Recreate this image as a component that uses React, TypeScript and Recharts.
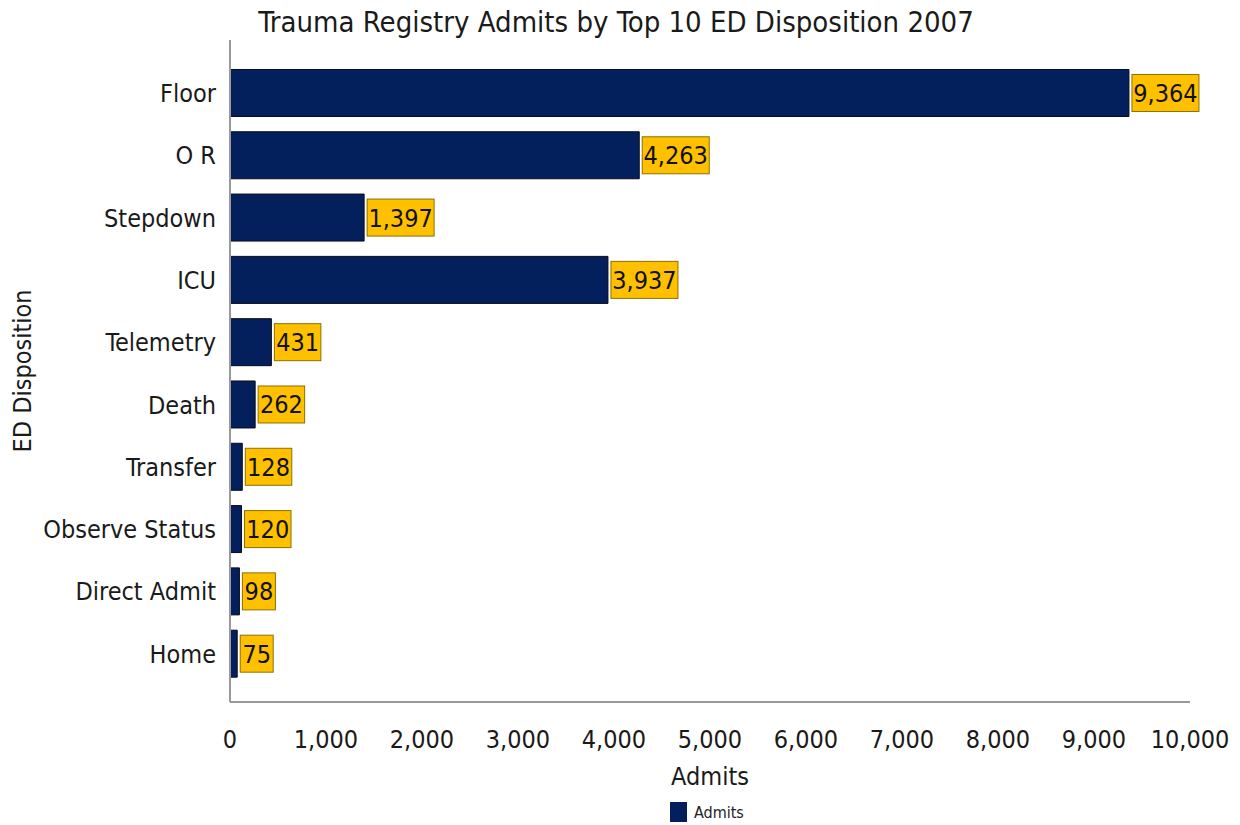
import React from "react";
import {
  BarChart, Bar, XAxis, YAxis, LabelList, Legend
} from "recharts";

const categories = [
  "Floor", "O R", "Stepdown", "ICU", "Telemetry",
  "Death", "Transfer", "Observe Status", "Direct Admit", "Home"
];
const admits = [9364, 4263, 1397, 3937, 431, 262, 128, 120, 98, 75];
const xTicks = [0, 1000, 2000, 3000, 4000, 5000, 6000, 7000, 8000, 9000, 10000];

const data = categories.map((name, i) => ({ name, admits: admits[i] }));

const FONT = "'DejaVu Sans Condensed', 'DejaVu Sans', sans-serif";
const NAVY = "#03205c";
const GOLD = "#ffc000";

const fmt = (v: number) => v.toLocaleString("en-US");

// yellow boxed value label at the end of each bar
const ValueBox = (props: any) => {
  const { x, y, width, height, value } = props;
  const text = fmt(value);
  let w = 6;
  for (const ch of text) w += ch === "," ? 7 : 13.5;
  const h = 37;
  const bx = x + width + 3;
  const by = y + height / 2 - h / 2;
  return (
    <g>
      <rect x={bx} y={by} width={w} height={h} fill={GOLD} stroke="#8c7000" strokeWidth={1} />
      <text x={bx + w / 2} y={by + h / 2 + 9} textAnchor="middle" fontSize={25}
        fontFamily={FONT} fill="#111">{text}</text>
    </g>
  );
};

const LegendContent = () => (
  <div style={{ display: "flex", alignItems: "center", fontFamily: FONT, fontSize: 16, color: "#222" }}>
    <span style={{ display: "inline-block", width: 17, height: 20, background: NAVY, marginRight: 7 }} />
    Admits
  </div>
);

export default function App() {
  return (
    <div style={{ position: "absolute", left: 0, top: 0, width: 1240, height: 825, background: "#fff" }}>
      <div style={{
        position: "absolute", left: 0, width: 1232, top: 5, textAlign: "center",
        fontFamily: FONT, fontSize: 29, color: "#1a1a1a"
      }}>
        Trauma Registry Admits by Top 10 ED Disposition 2007
      </div>
      <BarChart
        width={1240}
        height={825}
        data={data}
        layout="vertical"
        margin={{ top: 40, right: 50, left: 0, bottom: 0 }}
        barCategoryGap="12%"
      >
        <XAxis
          type="number"
          domain={[0, 10000]}
          ticks={xTicks}
          tickFormatter={fmt}
          interval={0}
          height={101}
          tickLine={false}
          tickSize={0}
          tickMargin={28}
          axisLine={{ stroke: "#999", strokeWidth: 2 }}
          tick={{ fontSize: 25, fontFamily: FONT, fill: "#1a1a1a" }}
          label={{
            value: "Admits", position: "insideTop", offset: 65,
            style: { fontSize: 25, fontFamily: FONT, fill: "#1a1a1a" }
          }}
        />
        <YAxis
          type="category"
          dataKey="name"
          width={230}
          tickLine={false}
          tickSize={0}
          tickMargin={14}
          interval={0}
          padding={{ top: 22, bottom: 17 }}
          axisLine={{ stroke: "#999", strokeWidth: 2 }}
          tick={{ fontSize: 25, fontFamily: FONT, fill: "#1a1a1a" }}
          label={{
            value: "ED Disposition", angle: -90, position: "insideLeft", offset: 22,
            style: { fontSize: 25, fontFamily: FONT, fill: "#1a1a1a", textAnchor: "middle" }
          }}
        />
        <Legend
          content={<LegendContent />}
          wrapperStyle={{ position: "absolute", left: 670, top: 802, width: 120, height: 22 }}
        />
        <Bar dataKey="admits" name="Admits" fill={NAVY} stroke="#0a0a1a" strokeWidth={1}
          isAnimationActive={false}>
          <LabelList dataKey="admits" content={<ValueBox />} />
        </Bar>
      </BarChart>
    </div>
  );
}
